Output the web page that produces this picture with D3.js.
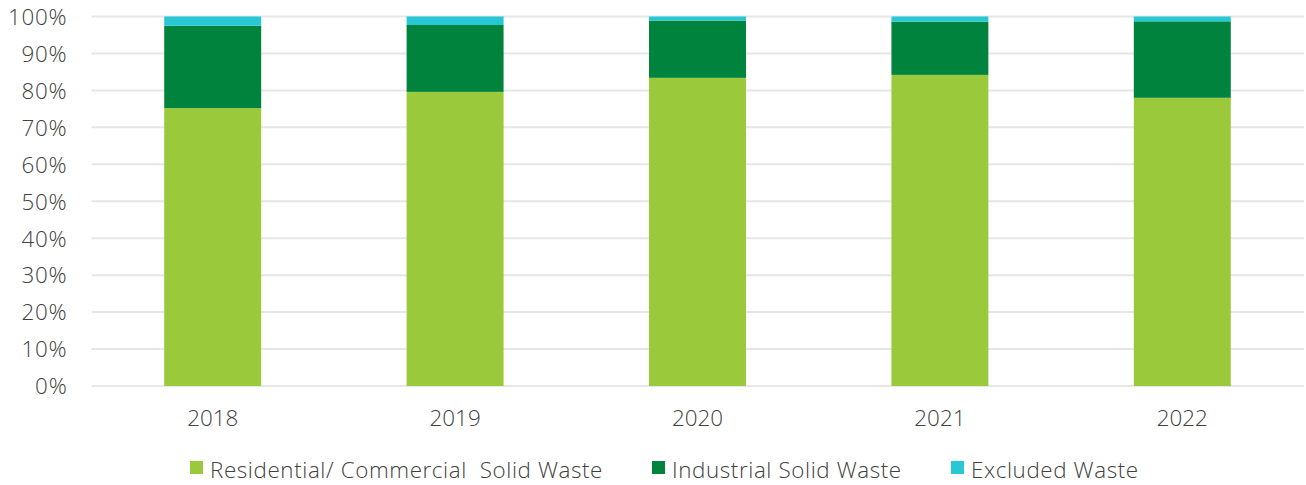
<!DOCTYPE html>
<html><head><meta charset="utf-8">
<script src="https://cdn.jsdelivr.net/npm/d3@7"></script>
<style>body{margin:0;background:#fff}svg text{font-family:"Open Sans",sans-serif;font-weight:300;fill:#404040}</style>
</head><body><svg id="c" width="1306" height="485"></svg>
<script>
const years = ["2018","2019","2020","2021","2022"];
const residential = [75.2, 79.6, 83.4, 84.2, 78.0];
const industrial = [22.3, 18.1, 15.5, 14.4, 20.7];
const excluded = [2.5, 2.3, 1.1, 1.4, 1.3];
const seriesNames = ["Residential/ Commercial  Solid Waste","Industrial Solid Waste","Excluded Waste"];
const colors = ["#9aca3c","#00843d","#27c8d4"];
const yTicks = [0,10,20,30,40,50,60,70,80,90,100];
const FS = 22.4;

const svg = d3.select("#c");
const x = d3.scaleBand().domain(years).range([91.5,1303.5]).paddingInner(0.6).paddingOuter(0.3);
const y = d3.scaleLinear().domain([0,100]).range([386,16.5]);

const g = svg.append("g");
g.selectAll("line.grid").data(yTicks).join("line")
  .attr("x1",91.5).attr("x2",1304).attr("y1",d=>y(d)).attr("y2",d=>y(d))
  .attr("stroke","#e6e6e6").attr("stroke-width",2);

const table = years.map((yr,i)=>({year:yr, r:residential[i], ind:industrial[i], ex:excluded[i]}));
const stack = d3.stack().keys(["r","ind","ex"])(table);
stack.forEach((s,k)=>{
  g.append("g").selectAll("rect").data(s).join("rect")
   .attr("x",d=>x(d.data.year)).attr("width",x.bandwidth())
   .attr("y",d=>y(d[1])).attr("height",d=>y(d[0])-y(d[1]))
   .attr("fill",colors[k]);
});

const ya = svg.append("g").attr("transform","translate(70.5,0)")
  .call(d3.axisLeft(y).tickValues(yTicks).tickFormat(d=>d+"%").tickSize(0));
ya.select(".domain").remove();
ya.selectAll("text").attr("font-size",FS).attr("dx",0).attr("dy","0.35em").attr("letter-spacing",0.8)
  .style("font-family","'Open Sans',sans-serif").style("font-weight",300).attr("fill","#404040");

const xa = svg.append("g").attr("transform","translate(0,386)")
  .call(d3.axisBottom(x).tickSize(0));
xa.select(".domain").remove();
xa.selectAll("text").attr("font-size",FS).attr("dy","0").attr("y",40)
  .style("font-family","'Open Sans',sans-serif").style("font-weight",300).attr("fill","#404040");

const legX = [190,652,951];
const leg = svg.append("g");
seriesNames.forEach((n,i)=>{
  leg.append("rect").attr("x",legX[i]).attr("y",461).attr("width",13).attr("height",13).attr("fill",colors[i]);
  leg.append("text").attr("x",legX[i]+20).attr("y",470).attr("dy","0.35em").attr("font-size",FS)
    .attr("letter-spacing",0.6).attr("xml:space","preserve").style("white-space","pre").text(n);
});
</script></body></html>
